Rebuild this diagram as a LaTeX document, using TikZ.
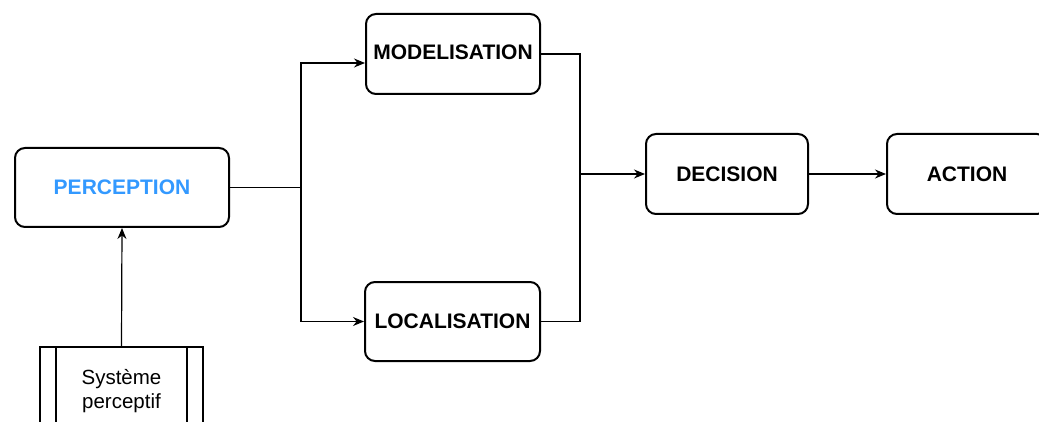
\documentclass[tikz,border=0pt]{standalone}
\usepackage{fontspec}
\setmainfont{Liberation Sans}
\usetikzlibrary{arrows.meta}
\definecolor{percblue}{HTML}{3399FF}
\tikzset{
  stage/.style={draw, line width=2pt, rounded corners=10pt, fill=white,
    font=\fontsize{21}{25}\selectfont\bfseries, inner sep=0pt, anchor=north west},
  link/.style={line width=1.2pt, -{Stealth[length=11pt,width=9pt]}},
  wire/.style={line width=1.2pt},
}
\begin{document}
\begin{tikzpicture}[x=1pt,y=-1pt]
\useasboundingbox (0,0) rectangle (1039,422);
\clip (0,0) rectangle (1039,422);
% processing stages
\node[stage, minimum width=214pt, minimum height=79pt, text=percblue] (perc) at (14,147) {PERCEPTION};
\node[stage, minimum width=174pt, minimum height=80pt] (model) at (365,13) {\raisebox{3pt}{MODELISATION}};
\node[stage, minimum width=175pt, minimum height=79pt] (loc) at (364,281) {LOCALISATION};
\node[stage, minimum width=162pt, minimum height=80pt] (dec) at (645,133) {DECISION};
\node[stage, minimum width=160pt, minimum height=80pt] (act) at (886,133) {ACTION};
% sensing subsystem (predefined process box)
\node[draw, line width=2pt, minimum width=163pt, minimum height=88pt, anchor=north west,
  inner sep=0pt, font=\fontsize{20.5}{24}\selectfont, align=center] (sens) at (39,346)
  {Système\\perceptif};
\draw[line width=2pt] ([xshift=17pt]sens.north west) -- ([xshift=17pt]sens.south west);
\draw[line width=2pt] ([xshift=-17pt]sens.north east) -- ([xshift=-17pt]sens.south east);
% junction points
\path (perc.east) ++(71,0) coordinate (split);
\path (dec.west) ++(-65,0) coordinate (merge);
% connectors
\draw[link] (sens.north) -- (perc.south);
\draw[wire] (perc.east) -- (split);
\draw[link] (split) |- ([yshift=-9pt]model.west);
\draw[link] (split) |- (loc.west);
\draw[wire] (model.east) -| (merge);
\draw[wire] (loc.east) -| (merge);
\draw[link] (merge) -- (dec.west);
\draw[link] (dec.east) -- (act.west);
\end{tikzpicture}
\end{document}
